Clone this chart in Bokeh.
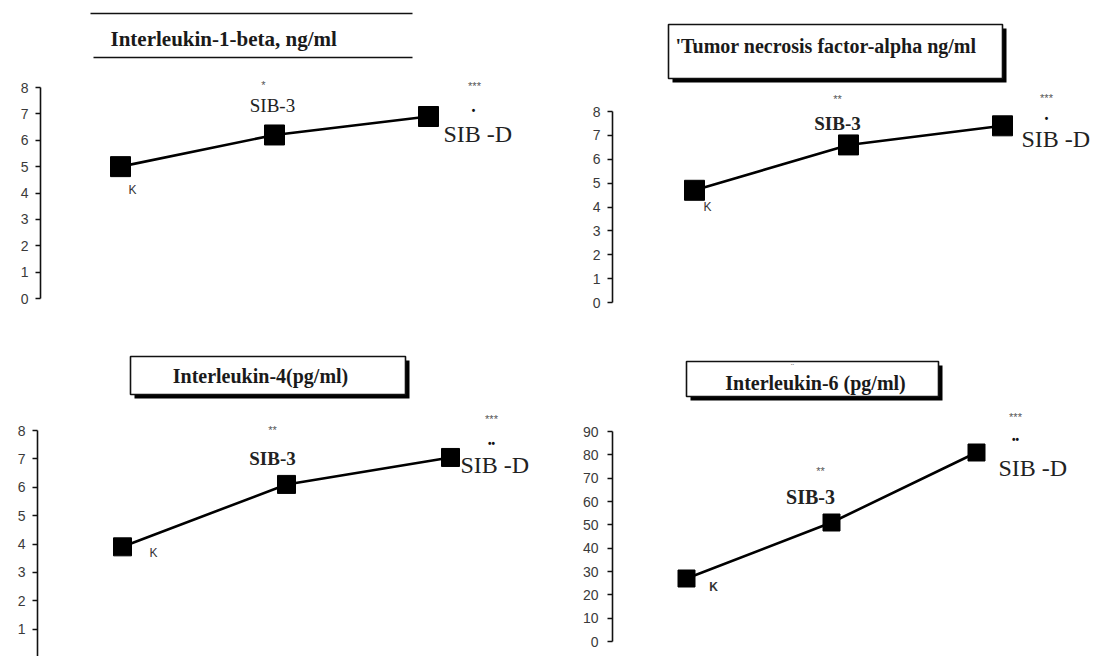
from bokeh.plotting import figure
from bokeh.layouts import column, row
from bokeh.models import BoxAnnotation, Label, LinearAxis, SingleIntervalTicker, Range1d
from bokeh.embed import file_html
from bokeh.resources import INLINE
from bokeh.core.properties import value

# ---------------- data ----------------
groups = ["K", "SIB-3", "SIB-D"]
il1b = [5.0, 6.2, 6.9]        # Interleukin-1-beta, ng/ml
tnfa = [4.7, 6.6, 7.4]        # Tumor necrosis factor-alpha, ng/ml
il4 = [3.9, 6.1, 7.05]        # Interleukin-4, pg/ml
il6 = [27, 51, 81]            # Interleukin-6, pg/ml
titles = ["Interleukin-1-beta, ng/ml", "'Tumor necrosis factor-alpha ng/ml",
          "Interleukin-4(pg/ml)", "Interleukin-6 (pg/ml)"]
y_max = [8, 8, 8, 90]
y_step = [1, 1, 1, 10]
sig_sib3 = ["*", "**", "**", "**"]
sig_sibd = ["***", "***", "***", "***"]
sig_sibd2 = ["\u2022", "\u2022", "\u2022\u2022", "\u2022\u2022"]

SERIF = "Liberation Serif"
SANS = "Liberation Sans"


def make_panel(vals, ymax, step, title, s3, sd1, sd2, g):
    fx, fy, w, h = g["fig"]
    ax_x = g["axis_x"]
    py0, pymax = g["py"]
    px0, px2 = g["px"]
    upx = (py0 - pymax) / ymax
    xpx = (px2 - px0) / 2.0

    def xd(px):
        return (px - px0) / xpx

    def yd(py):
        return (py0 - py) / upx

    p = figure(width=w, height=h,
               x_range=Range1d(xd(ax_x), xd(fx + w)),
               y_range=Range1d(yd(fy + h), yd(fy)),
               output_backend="svg", toolbar_location=None,
               x_axis_location=None, y_axis_location=None,
               min_border_left=ax_x - fx, min_border_right=0,
               min_border_top=0, min_border_bottom=0)
    p.outline_line_color = None
    p.xgrid.visible = False
    p.ygrid.visible = False
    p.background_fill_color = "white"
    p.border_fill_color = "white"

    ax = LinearAxis(ticker=SingleIntervalTicker(interval=step), bounds=(0, ymax))
    ax.major_tick_out = 5
    ax.major_tick_in = 0
    ax.minor_tick_out = 0
    ax.minor_tick_in = 0
    ax.major_label_standoff = g.get("standoff", 7)
    ax.axis_line_width = 1.6
    ax.axis_line_color = "#111111"
    ax.major_tick_line_width = 1.3
    ax.major_tick_line_color = "#111111"
    ax.major_label_text_font = SANS
    ax.major_label_text_font_size = "14px"
    ax.major_label_text_color = "#3a3a3a"
    p.add_layout(ax, "left")

    xs = list(range(len(groups)))
    p.line(xs, vals, line_color="black", line_width=2.6)
    p.scatter(xs, vals, marker="square", size=g["msize"], color="black")

    # ---- title decoration ----
    l0, l1, ty, by = g["title_box"]
    if g["title_kind"] == "lines":
        p.segment(x0=[xd(l0), xd(l0 + 3)], y0=[yd(ty), yd(by)],
                  x1=[xd(l1), xd(l1)], y1=[yd(ty), yd(by)],
                  line_color="#111111", line_width=1.6)
    else:
        sh = 4
        p.add_layout(BoxAnnotation(left=xd(l0 + sh), right=xd(l1 + sh), top=yd(ty + sh),
                                   bottom=yd(by + sh), fill_color="black", fill_alpha=1,
                                   line_color=None))
        p.add_layout(BoxAnnotation(left=xd(l0), right=xd(l1), top=yd(ty), bottom=yd(by),
                                   fill_color="white", fill_alpha=1,
                                   line_color="#111111", line_width=1.6, line_alpha=1))
    tx, tyy, talign = g["title_text"]
    p.add_layout(Label(x=xd(tx), y=yd(tyy), text=title, text_align=talign,
                       text_baseline="middle", text_font=SERIF, text_font_style="bold",
                       text_font_size=g.get("tsize", "20px"), text_color="#1a1a1a"))
    for (t, lx, ly, fs) in g.get("extra", []):
        p.add_layout(Label(x=xd(lx), y=yd(ly), text=t, text_align="center",
                           text_baseline="middle", text_font=SANS,
                           text_font_size=fs, text_color="#777777"))

    # ---- point annotations ----
    def txt(i, t, dx, dy, font, size, style="normal", align="center", color="#222222"):
        p.text(x=[xs[i]], y=[vals[i]], text=[t], x_offset=dx, y_offset=dy,
               text_align=align, text_baseline="middle",
               text_font=value(font), text_font_size=size,
               text_font_style=style, text_color=color)

    lk = g["lab_k"]
    txt(0, groups[0], lk[0], lk[1], SANS, "12px", lk[2], color="#333333")
    a = g["lab_s3"]
    txt(1, s3, a[0], a[1], SANS, "11px", color="#555555")
    b = g["lab_s3_name"]
    txt(1, groups[1], b[0], b[1], SERIF, b[2], b[3])
    c = g["lab_sd"]
    txt(2, sd1, c[0], c[1], SANS, "11px", color="#555555")
    txt(2, sd2, c[2], c[3], SANS, c[4], "bold", color="#111111")
    d = g["lab_sd_name"]
    txt(2, "SIB -D", d[0], d[1], SERIF, "24px", "normal", "left", "#222222")
    return p


geo = [
    dict(fig=(0, 0, 560, 322), axis_x=40, py=(298, 87), px=(120, 428), msize=20,
         title_kind="lines", title_box=(90, 412, 13, 57), title_text=(110, 38, "left"),
         tsize="21px",
         lab_k=(12, 23, "normal"), lab_s3=(-11, -50), lab_s3_name=(-2, -29, "19px", "normal"),
         lab_sd=(46, -31, 45, -6, "10px"), lab_sd_name=(15, 17)),
    dict(fig=(560, 0, 530, 322), axis_x=612, py=(302, 111), px=(694, 1002), msize=20,
         title_kind="box", title_box=(668, 1002, 24, 78), title_text=(675, 45, "left"),
         lab_k=(13, 17, "normal"), lab_s3=(-11, -46), lab_s3_name=(-11, -21, "19px", "bold"),
         lab_sd=(44, -28, 44, -7, "10px"), lab_sd_name=(19, 13)),
    dict(fig=(0, 322, 560, 334), axis_x=37, py=(657, 430), px=(122, 450), msize=18,
         title_kind="box", title_box=(130, 405, 356, 394), title_text=(260, 375, "center"),
         lab_k=(31, 6, "normal"), lab_s3=(-14, -54), lab_s3_name=(-14, -26, "19px", "bold"),
         lab_sd=(41, -38, 41, -14, "10px"), lab_sd_name=(10, 8)),
    dict(fig=(560, 322, 530, 334), axis_x=612, py=(641, 431), px=(686, 976), msize=17,
         standoff=9,
         title_kind="box", title_box=(686, 938, 361, 396), title_text=(815, 382, "center"),
         extra=[("\u00a8", 792, 366, "9px")],
         lab_k=(27, 8, "bold"), lab_s3=(-11, -52), lab_s3_name=(-21, -26, "20px", "bold"),
         lab_sd=(39, -36, 39, -13, "10px"), lab_sd_name=(22, 15)),
]

series = [il1b, tnfa, il4, il6]
panels = [make_panel(series[i], y_max[i], y_step[i], titles[i], sig_sib3[i],
                     sig_sibd[i], sig_sibd2[i], geo[i]) for i in range(4)]

layout = column(row(panels[0], panels[1], spacing=0),
                row(panels[2], panels[3], spacing=0), spacing=0)

open("out.html", "w").write(file_html(layout, INLINE))
